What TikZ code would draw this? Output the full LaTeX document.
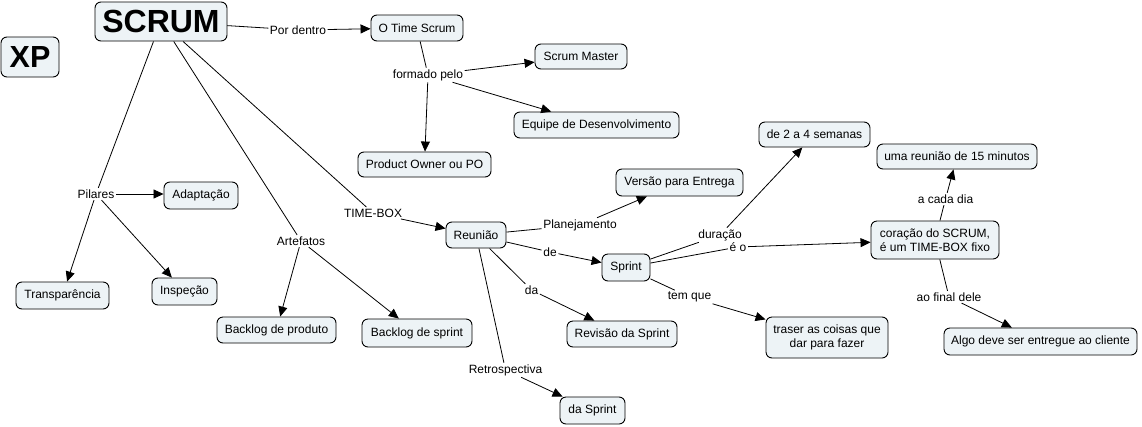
\documentclass[tikz,border=0pt]{standalone}
\usepackage{fontspec}
\setmainfont{Liberation Sans}
\usetikzlibrary{arrows.meta}
\definecolor{cfill}{RGB}{237,243,246}
\begin{document}
\begin{tikzpicture}[x=1pt,y=-1pt,
  concept/.style={draw=black,fill=cfill,rounded corners=6pt,line width=0.9pt,inner sep=0pt,font=\fontsize{12}{14}\selectfont},
  lp/.style={inner sep=1.5pt,font=\fontsize{12}{14}\selectfont},
  con/.style={draw=black,line width=0.8pt},
  arr/.style={con,-{Triangle[length=10pt,width=9pt]}}]
\fill[white] (0,0) rectangle (1142,426);
\useasboundingbox (0,0) rectangle (1142,426);
% concepts
\node[concept,minimum width=132pt,minimum height=39pt,font=\fontsize{32}{36}\selectfont\bfseries] (scrum) at (161,21.5) {SCRUM};
\node[concept,minimum width=58pt,minimum height=40pt,font=\fontsize{30.5}{34}\selectfont\bfseries] (xp) at (30,57) {XP};
\node[concept,minimum width=92pt,minimum height=26pt] (time) at (417,28) {O Time Scrum};
\node[concept,minimum width=92pt,minimum height=25pt] (sm) at (581,56.5) {Scrum Master};
\node[concept,minimum width=165pt,minimum height=26pt] (equipe) at (596.5,125) {Equipe de Desenvolvimento};
\node[concept,minimum width=133pt,minimum height=25pt] (po) at (424.5,164.5) {Product Owner ou PO};
\node[concept,minimum width=127pt,minimum height=27pt] (versao) at (679.5,182.5) {Versão para Entrega};
\node[concept,minimum width=111pt,minimum height=25pt] (semanas) at (814.5,134.5) {de 2 a 4 semanas};
\node[concept,minimum width=160pt,minimum height=25pt] (reuniao15) at (957,156.5) {uma reunião de 15 minutos};
\node[concept,minimum width=128pt,minimum height=38pt,align=left] (coracao) at (935,240) {coração do SCRUM,\\é um TIME-BOX fixo};
\node[concept,minimum width=193pt,minimum height=27pt] (algo) at (1040.5,341.5) {Algo deve ser entregue ao cliente};
\node[concept,minimum width=122pt,minimum height=41pt,align=center] (traser) at (827,337.5) {traser as coisas que\\dar para fazer};
\node[concept,minimum width=60pt,minimum height=26pt] (reuniao) at (476,235) {Reunião};
\node[concept,minimum width=48pt,minimum height=27pt] (sprint) at (626,267.5) {Sprint};
\node[concept,minimum width=110pt,minimum height=26pt] (revisao) at (622,334) {Revisão da Sprint};
\node[concept,minimum width=65pt,minimum height=27pt] (dasprint) at (592.5,410.5) {da Sprint};
\node[concept,minimum width=74pt,minimum height=27pt] (adapt) at (201,195.5) {Adaptação};
\node[concept,minimum width=93pt,minimum height=27pt] (transp) at (62.5,295.5) {Transparência};
\node[concept,minimum width=65pt,minimum height=27pt] (insp) at (184.5,291.5) {Inspeção};
\node[concept,minimum width=119pt,minimum height=26pt] (bprod) at (276.5,330) {Backlog de produto};
\node[concept,minimum width=110pt,minimum height=28pt] (bspr) at (417,333) {Backlog de sprint};
% linking phrases
\node[lp] (pordentro) at (298,30) {Por dentro};
\node[lp] (formado) at (428,75) {formado pelo};
\node[lp] (pilares) at (96,194) {Pilares};
\node[lp] (artefatos) at (301,241) {Artefatos};
\node[lp] (timebox) at (373,213) {TIME-BOX};
\node[lp] (planej) at (580,225) {Planejamento};
\node[lp] (de) at (550,252) {de};
\node[lp] (da) at (531.5,290) {da};
\node[lp] (retro) at (505.5,370) {Retrospectiva};
\node[lp] (duracao) at (720,235) {duração};
\node[lp] (eo) at (738,247) {é o};
\node[lp] (temque) at (689.5,297) {tem que};
\node[lp] (cadadia) at (945.5,199) {a cada dia};
\node[lp] (final) at (949,297) {ao final dele};
% connectors
\draw[con] (scrum) -- (pordentro);
\draw[arr] (pordentro) -- (time);
\draw[con] (time) -- (formado);
\draw[arr] (formado) -- (sm);
\draw[arr] (formado) -- (equipe);
\draw[arr] (formado) -- (po);
\draw[con] (scrum) -- (pilares);
\draw[arr] (pilares.east) -- (adapt.west |- pilares.east);
\draw[arr] (pilares) -- (transp);
\draw[arr] (pilares) -- (insp);
\draw[con] (scrum) -- (artefatos);
\draw[arr] (artefatos) -- (bprod);
\draw[arr] (artefatos) -- (bspr);
\draw[con] (scrum) -- (timebox);
\draw[arr] (timebox) -- (reuniao);
\draw[con] (reuniao) -- (planej);
\draw[arr] (planej) -- (versao);
\draw[con] (reuniao) -- (de);
\draw[arr] (de) -- (sprint);
\draw[con] (reuniao) -- (da);
\draw[arr] (da) -- (revisao);
\draw[con] (reuniao) -- (retro);
\draw[arr] (retro) -- (dasprint);
\draw[con] (sprint) -- (duracao);
\draw[arr] (duracao) -- (semanas);
\draw[con] (sprint) -- (eo);
\draw[arr] (eo) -- (coracao);
\draw[con] (sprint) -- (temque);
\draw[arr] (temque) -- (traser);
\draw[con] (coracao) -- (cadadia);
\draw[arr] (cadadia) -- (reuniao15);
\draw[con] (coracao) -- (final);
\draw[arr] (final) -- (algo);
\end{tikzpicture}
\end{document}
